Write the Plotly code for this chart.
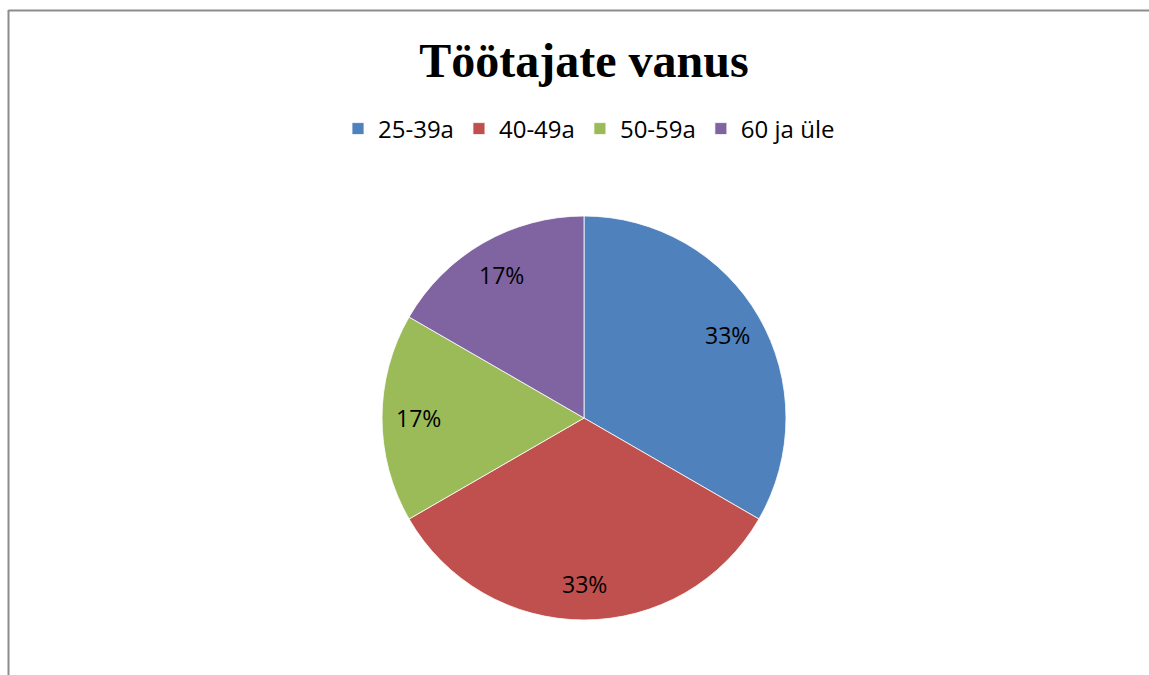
import math
import plotly.graph_objects as go

categories = ["25-39a", "40-49a", "50-59a", "60 ja üle"]
values = [2, 2, 1, 1]
colors = ["#4F81BD", "#C0504D", "#9BBB59", "#8064A2"]
title_text = "Töötajate vanus"

W, H = 1149, 675
cx, cy, r = 584, 418, 202
label_frac = 0.82

fig = go.Figure(go.Pie(
    labels=categories,
    values=values,
    sort=False,
    direction="clockwise",
    rotation=0,
    marker=dict(colors=colors, line=dict(color="rgba(255,255,255,0.8)", width=1)),
    textinfo="none",
    domain=dict(x=[(cx - r) / W, (cx + r) / W], y=[1 - (cy + r) / H, 1 - (cy - r) / H]),
    hoverinfo="label+percent",
))

# percentage labels placed like the original (about 0.82 r from centre)
total = sum(values)
annotations = []
cum = 0
for v in values:
    mid = (cum + v / 2) / total * 2 * math.pi
    cum += v
    px = cx + label_frac * r * math.sin(mid)
    py = cy - label_frac * r * math.cos(mid)
    annotations.append(dict(
        x=px / W, y=1 - py / H, xref="paper", yref="paper",
        text=f"{round(100 * v / total)}%", showarrow=False,
        xanchor="center", yanchor="middle",
        font=dict(family="Open Sans", size=23, color="black"),
    ))

fig.update_layout(
    width=W, height=H,
    margin=dict(l=0, r=0, t=0, b=0),
    paper_bgcolor="white",
    plot_bgcolor="white",
    title=dict(text="<b>" + title_text + "</b>", x=cx / W, xanchor="center",
               y=1 - 60 / H, yanchor="middle", yref="paper",
               font=dict(family="Liberation Serif", size=48, color="black")),
    legend=dict(orientation="h", x=589 / W, xanchor="center", y=1 - 129 / H, yanchor="middle",
                font=dict(family="Open Sans", size=24, color="black"),
                itemwidth=30, traceorder="normal"),
    annotations=annotations,
    shapes=[
        dict(type="line", xref="paper", yref="paper", x0=8.5 / W, x1=8.5 / W, y0=0, y1=1 - 10 / H,
             line=dict(color="#8c8c8c", width=2)),
        dict(type="line", xref="paper", yref="paper", x0=8.5 / W, x1=1, y0=1 - 10.5 / H, y1=1 - 10.5 / H,
             line=dict(color="#8c8c8c", width=2)),
    ],
)

fig.write_html("out.html", config={"displayModeBar": False},
               post_script="document.body.style.margin='0';document.body.style.overflow='hidden';")
